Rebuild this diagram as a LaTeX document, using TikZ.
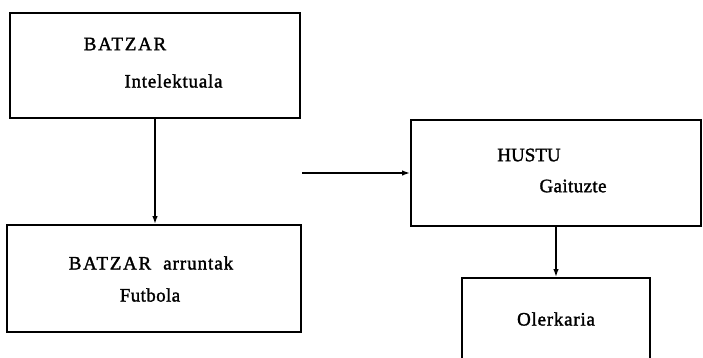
\documentclass[tikz,border=0pt]{standalone}
\usepackage{fontspec}
\setmainfont{Liberation Serif}[FakeBold=1.6]
\usetikzlibrary{arrows.meta,calc}
\newcommand{\lsp}[2]{{\addfontfeature{LetterSpace=#1}#2}}
\tikzset{
  boxnode/.style={draw, line width=1.8pt, rectangle, inner sep=0pt},
  lbl/.style={font=\fontsize{19}{21}\selectfont, inner sep=0pt},
  arr/.style={line width=1.8pt, -{Latex[length=8pt,width=5.5pt]}}
}
\begin{document}
\begin{tikzpicture}[x=1pt,y=-1pt]
\useasboundingbox (0,0) rectangle (703,357);
\clip (0,0) rectangle (703,357);
% boxes
\node[boxnode, minimum width=290pt, minimum height=105pt] (box1) at (155,65.5) {};
\node[boxnode, minimum width=294pt, minimum height=107pt] (box2) at (154,278.5) {};
\node[boxnode, minimum width=290pt, minimum height=106pt] (box3) at (556,173) {};
\node[boxnode, minimum width=188pt, minimum height=100pt] (box4) at (556,328) {};
% labels
\node[lbl] (t1a) at (125,44) {\lsp{9}{BATZAR}};
\node[lbl] (t1b) at (173.5,81) {\lsp{4}{Intelektuala}};
\node[lbl] (t2a) at (151,263) {\lsp{9}{BATZAR}\hspace{12pt}\lsp{5}{arruntak}};
\node[lbl] (t2b) at (150,295) {\lsp{2}{Futbola}};
\node[lbl] (t3a) at (529,155) {HUSTU};
\node[lbl] (t3b) at (573,186) {\lsp{2}{Gaituzte}};
\node[lbl] (t4) at (556,319) {\lsp{4}{Olerkaria}};
% connectors
\coordinate (hstart) at (302,173);
\draw[arr] (box1.south) -- (box1.south |- box2.north);
\draw[arr] (hstart) -- (box3.west |- hstart);
\draw[arr] (box3.south -| box4.north) -- (box4.north);
\end{tikzpicture}
\end{document}
